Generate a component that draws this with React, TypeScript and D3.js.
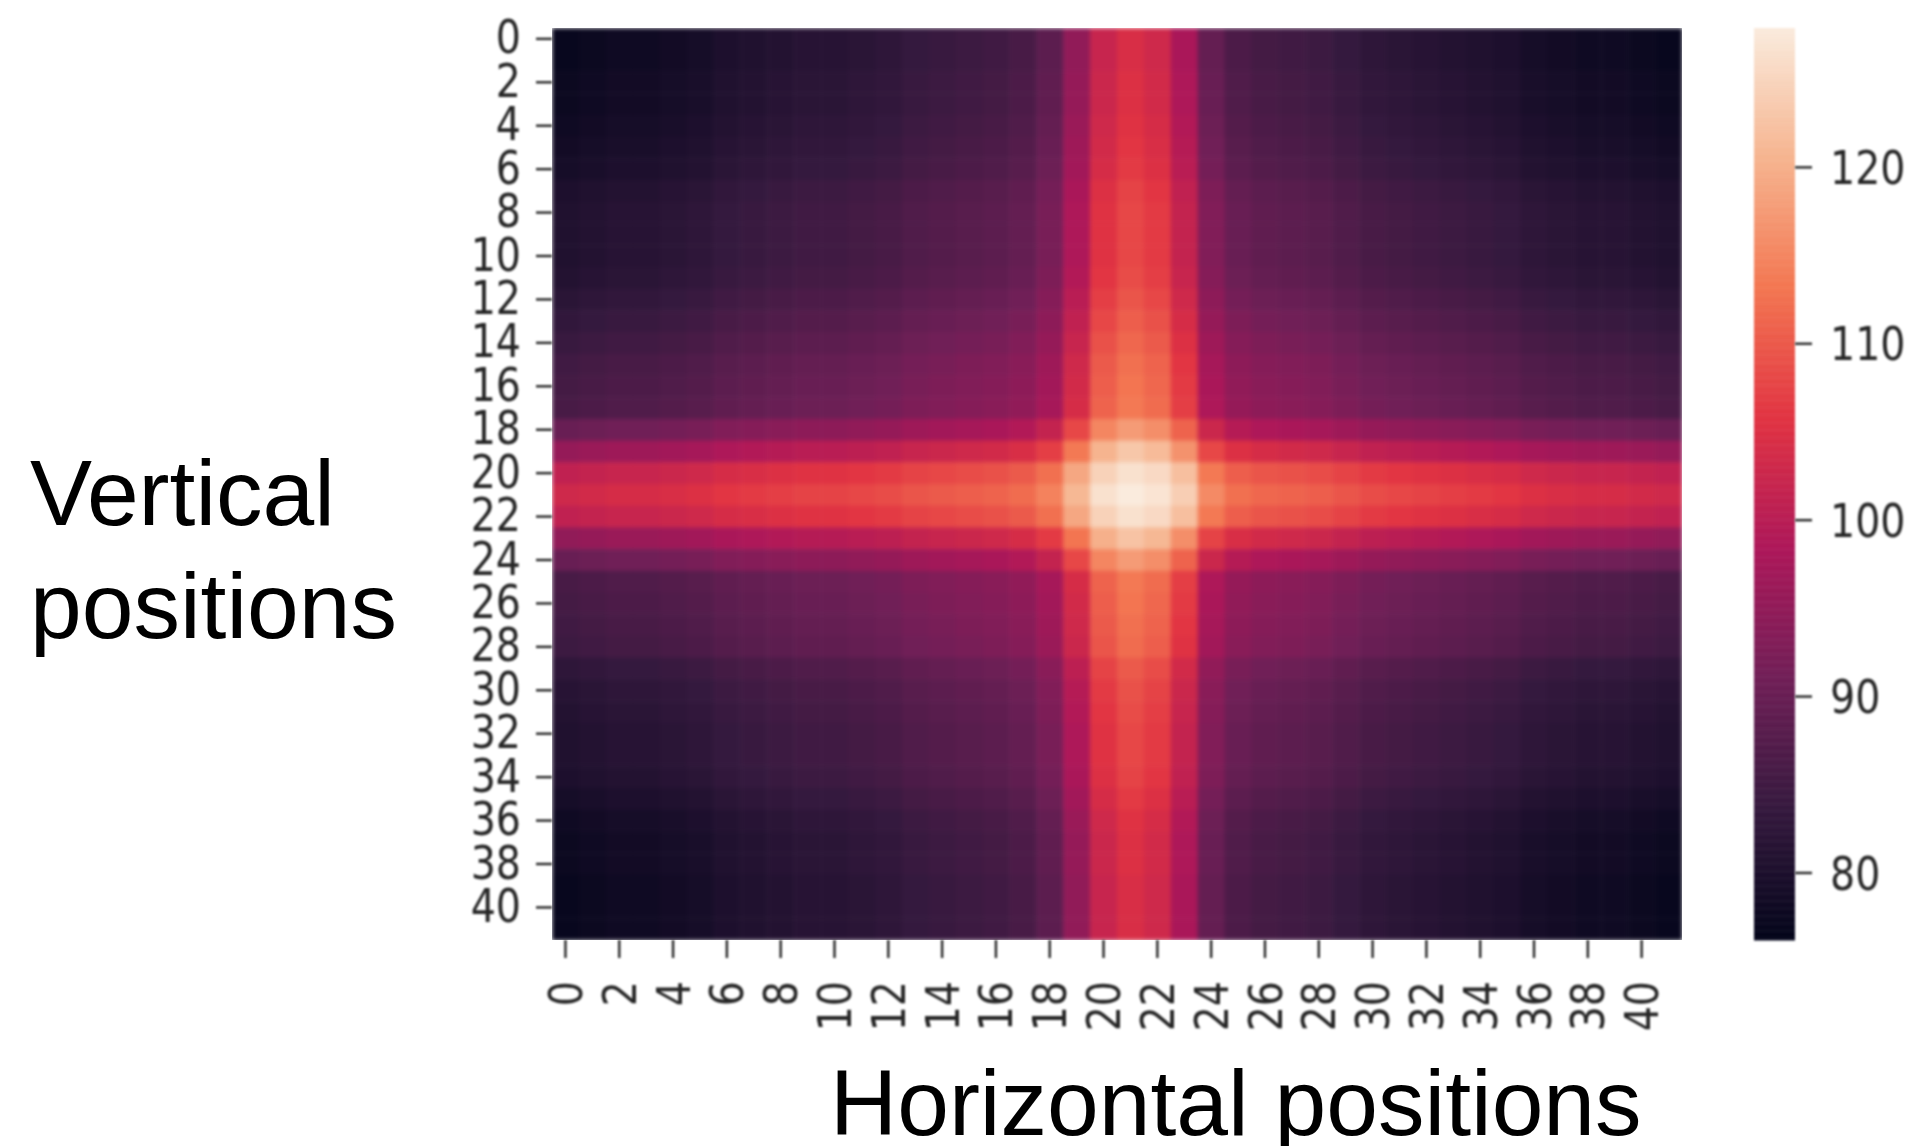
import React from "react";
import * as d3 from "d3";

const matrix: number[][] = [
[77,77.5,78,78,78.5,79,80,80.5,81,81.5,81.5,82,82.5,83.5,84,84.5,85,86,88.5,95,102,104.5,103,98,89.5,86.5,85.5,85,84.5,83.5,82.5,82,81.5,81,80.5,80,79,78.5,78,78,77.5,77],
[77,77.5,78,78,78.5,79,80,80.5,81,81.5,81.5,82,82.5,83.5,84,84.5,85,86,88.5,95,102,104.5,103,98,89.5,86.5,85.5,85,84.5,83.5,82.5,82,81.5,81,80.5,80,79,78.5,78,78,77.5,77],
[77.5,78,78.5,78.5,79,79.5,80.5,81,81.5,82,82,82.5,83,84,84.5,85,85.5,86.5,89,95.5,102.5,105,103.5,98.5,90,87,86,85.5,85,84,83,82.5,82,81.5,81,80.5,79.5,79,78.5,78.5,78,77.5],
[77.5,78,78.5,78.5,79,79.5,80.5,81,81.5,82,82,82.5,83,84,84.5,85,85.5,86.5,89,95.5,102.5,105,103.5,98.5,90,87,86,85.5,85,84,83,82.5,82,81.5,81,80.5,79.5,79,78.5,78.5,78,77.5],
[78,78.5,79,79,79.5,80,81,81.5,82,82.5,82.5,83,83.5,84.5,85,85.5,86,87,89.5,96,103,105.5,104,99,90.5,87.5,86.5,86,85.5,84.5,83.5,83,82.5,82,81.5,81,80,79.5,79,79,78.5,78],
[78.5,79,79.5,79.5,80,80.5,81.5,82,82.5,83,83,83.5,84,85,85.5,86,86.5,87.5,90,96.5,103.5,106,104.5,99.5,91,88,87,86.5,86,85,84,83.5,83,82.5,82,81.5,80.5,80,79.5,79.5,79,78.5],
[79,79.5,80,80,80.5,81,82,82.5,83,83.5,83.5,84,84.5,85.5,86,86.5,87,88,90.5,97,104,106.5,105,100,91.5,88.5,87.5,87,86.5,85.5,84.5,84,83.5,83,82.5,82,81,80.5,80,80,79.5,79],
[80,80.5,81,81,81.5,82,83,83.5,84,84.5,84.5,85,85.5,86.5,87,87.5,88,89,91.5,98,105,107.5,106,101,92.5,89.5,88.5,88,87.5,86.5,85.5,85,84.5,84,83.5,83,82,81.5,81,81,80.5,80],
[80.5,81,81.5,81.5,82,82.5,83.5,84,84.5,85,85,85.5,86,87,87.5,88,88.5,89.5,92,98.5,105.5,108,106.5,101.5,93,90,89,88.5,88,87,86,85.5,85,84.5,84,83.5,82.5,82,81.5,81.5,81,80.5],
[80.5,81,81.5,81.5,82,82.5,83.5,84,84.5,85,85,85.5,86,87,87.5,88,88.5,89.5,92,98.5,105.5,108,106.5,101.5,93,90,89,88.5,88,87,86,85.5,85,84.5,84,83.5,82.5,82,81.5,81.5,81,80.5],
[80.5,81,81.5,81.5,82,82.5,83.5,84,84.5,85,85,85.5,86,87,87.5,88,88.5,89.5,92,98.5,105.5,108,106.5,101.5,93,90,89,88.5,88,87,86,85.5,85,84.5,84,83.5,82.5,82,81.5,81.5,81,80.5],
[81,81.5,82,82,82.5,83,84,84.5,85,85.5,85.5,86,86.5,87.5,88,88.5,89,90,92.5,99,106,108.5,107,102,93.5,90.5,89.5,89,88.5,87.5,86.5,86,85.5,85,84.5,84,83,82.5,82,82,81.5,81],
[82,82.5,83,83,83.5,84,85,85.5,86,86.5,86.5,87,87.5,88.5,89,89.5,90,91,93.5,100,107,109.5,108,103,94.5,91.5,90.5,90,89.5,88.5,87.5,87,86.5,86,85.5,85,84,83.5,83,83,82.5,82],
[83,83.5,84,84,84.5,85,86,86.5,87,87.5,87.5,88,88.5,89.5,90,90.5,91,92,94.5,101,108,110.5,109,104,95.5,92.5,91.5,91,90.5,89.5,88.5,88,87.5,87,86.5,86,85,84.5,84,84,83.5,83],
[84,84.5,85,85,85.5,86,87,87.5,88,88.5,88.5,89,89.5,90.5,91,91.5,92,93,95.5,102,109,111.5,110,105,96.5,93.5,92.5,92,91.5,90.5,89.5,89,88.5,88,87.5,87,86,85.5,85,85,84.5,84],
[85,85.5,86,86,86.5,87,88,88.5,89,89.5,89.5,90,90.5,91.5,92,92.5,93,94,96.5,103,110,112.5,111,106,97.5,94.5,93.5,93,92.5,91.5,90.5,90,89.5,89,88.5,88,87,86.5,86,86,85.5,85],
[85.5,86,86.5,86.5,87,87.5,88.5,89,89.5,90,90,90.5,91,92,92.5,93,93.5,94.5,97,103.5,110.5,113,111.5,106.5,98,95,94,93.5,93,92,91,90.5,90,89.5,89,88.5,87.5,87,86.5,86.5,86,85.5],
[86,86.5,87,87,87.5,88,89,89.5,90,90.5,90.5,91,91.5,92.5,93,93.5,94,95,97.5,104,111,113.5,112,107,98.5,95.5,94.5,94,93.5,92.5,91.5,91,90.5,90,89.5,89,88,87.5,87,87,86.5,86],
[90,90.5,91,91,91.5,92,93,93.5,94,94.5,94.5,95,95.5,96.5,97,97.5,98,99,101.5,108,115,117.5,116,111,102.5,99.5,98.5,98,97.5,96.5,95.5,95,94.5,94,93.5,93,92,91.5,91,91,90.5,90],
[95.5,96,96.5,96.5,97,97.5,98.5,99,99.5,100,100,100.5,101,102,102.5,103,103.5,104.5,107,113.5,120.5,123,121.5,116.5,108,105,104,103.5,103,102,101,100.5,100,99.5,99,98.5,97.5,97,96.5,96.5,96,95.5],
[101,101.5,102,102,102.5,103,104,104.5,105,105.5,105.5,106,106.5,107.5,108,108.5,109,110,112.5,119,124.5,126.5,125.5,122,113.5,110.5,109.5,109,108.5,107.5,106.5,106,105.5,105,104.5,104,103,102.5,102,102,101.5,101],
[103,103.5,104,104,104.5,105,106,106.5,107,107.5,107.5,108,108.5,109.5,110,110.5,111,112,114.5,121,126.5,127.9,127,124,115.5,112.5,111.5,111,110.5,109.5,108.5,108,107.5,107,106.5,106,105,104.5,104,104,103.5,103],
[101,101.5,102,102,102.5,103,104,104.5,105,105.5,105.5,106,106.5,107.5,108,108.5,109,110,112.5,119,124.5,126.5,125.5,122,113.5,110.5,109.5,109,108.5,107.5,106.5,106,105.5,105,104.5,104,103,102.5,102,102,101.5,101],
[95,95.5,96,96,96.5,97,98,98.5,99,99.5,99.5,100,100.5,101.5,102,102.5,103,104,106.5,113,120,122.5,121,116,107.5,104.5,103.5,103,102.5,101.5,100.5,100,99.5,99,98.5,98,97,96.5,96,96,95.5,95],
[90,90.5,91,91,91.5,92,93,93.5,94,94.5,94.5,95,95.5,96.5,97,97.5,98,99,101.5,108,115,117.5,116,111,102.5,99.5,98.5,98,97.5,96.5,95.5,95,94.5,94,93.5,93,92,91.5,91,91,90.5,90],
[86,86.5,87,87,87.5,88,89,89.5,90,90.5,90.5,91,91.5,92.5,93,93.5,94,95,97.5,104,111,113.5,112,107,98.5,95.5,94.5,94,93.5,92.5,91.5,91,90.5,90,89.5,89,88,87.5,87,87,86.5,86],
[85.5,86,86.5,86.5,87,87.5,88.5,89,89.5,90,90,90.5,91,92,92.5,93,93.5,94.5,97,103.5,110.5,113,111.5,106.5,98,95,94,93.5,93,92,91,90.5,90,89.5,89,88.5,87.5,87,86.5,86.5,86,85.5],
[85,85.5,86,86,86.5,87,88,88.5,89,89.5,89.5,90,90.5,91.5,92,92.5,93,94,96.5,103,110,112.5,111,106,97.5,94.5,93.5,93,92.5,91.5,90.5,90,89.5,89,88.5,88,87,86.5,86,86,85.5,85],
[84.5,85,85.5,85.5,86,86.5,87.5,88,88.5,89,89,89.5,90,91,91.5,92,92.5,93.5,96,102.5,109.5,112,110.5,105.5,97,94,93,92.5,92,91,90,89.5,89,88.5,88,87.5,86.5,86,85.5,85.5,85,84.5],
[82.5,83,83.5,83.5,84,84.5,85.5,86,86.5,87,87,87.5,88,89,89.5,90,90.5,91.5,94,100.5,107.5,110,108.5,103.5,95,92,91,90.5,90,89,88,87.5,87,86.5,86,85.5,84.5,84,83.5,83.5,83,82.5],
[81.5,82,82.5,82.5,83,83.5,84.5,85,85.5,86,86,86.5,87,88,88.5,89,89.5,90.5,93,99.5,106.5,109,107.5,102.5,94,91,90,89.5,89,88,87,86.5,86,85.5,85,84.5,83.5,83,82.5,82.5,82,81.5],
[81,81.5,82,82,82.5,83,84,84.5,85,85.5,85.5,86,86.5,87.5,88,88.5,89,90,92.5,99,106,108.5,107,102,93.5,90.5,89.5,89,88.5,87.5,86.5,86,85.5,85,84.5,84,83,82.5,82,82,81.5,81],
[80.5,81,81.5,81.5,82,82.5,83.5,84,84.5,85,85,85.5,86,87,87.5,88,88.5,89.5,92,98.5,105.5,108,106.5,101.5,93,90,89,88.5,88,87,86,85.5,85,84.5,84,83.5,82.5,82,81.5,81.5,81,80.5],
[80.5,81,81.5,81.5,82,82.5,83.5,84,84.5,85,85,85.5,86,87,87.5,88,88.5,89.5,92,98.5,105.5,108,106.5,101.5,93,90,89,88.5,88,87,86,85.5,85,84.5,84,83.5,82.5,82,81.5,81.5,81,80.5],
[80,80.5,81,81,81.5,82,83,83.5,84,84.5,84.5,85,85.5,86.5,87,87.5,88,89,91.5,98,105,107.5,106,101,92.5,89.5,88.5,88,87.5,86.5,85.5,85,84.5,84,83.5,83,82,81.5,81,81,80.5,80],
[79,79.5,80,80,80.5,81,82,82.5,83,83.5,83.5,84,84.5,85.5,86,86.5,87,88,90.5,97,104,106.5,105,100,91.5,88.5,87.5,87,86.5,85.5,84.5,84,83.5,83,82.5,82,81,80.5,80,80,79.5,79],
[78,78.5,79,79,79.5,80,81,81.5,82,82.5,82.5,83,83.5,84.5,85,85.5,86,87,89.5,96,103,105.5,104,99,90.5,87.5,86.5,86,85.5,84.5,83.5,83,82.5,82,81.5,81,80,79.5,79,79,78.5,78],
[77.5,78,78.5,78.5,79,79.5,80.5,81,81.5,82,82,82.5,83,84,84.5,85,85.5,86.5,89,95.5,102.5,105,103.5,98.5,90,87,86,85.5,85,84,83,82.5,82,81.5,81,80.5,79.5,79,78.5,78.5,78,77.5],
[77.5,78,78.5,78.5,79,79.5,80.5,81,81.5,82,82,82.5,83,84,84.5,85,85.5,86.5,89,95.5,102.5,105,103.5,98.5,90,87,86,85.5,85,84,83,82.5,82,81.5,81,80.5,79.5,79,78.5,78.5,78,77.5],
[77,77.5,78,78,78.5,79,80,80.5,81,81.5,81.5,82,82.5,83.5,84,84.5,85,86,88.5,95,102,104.5,103,98,89.5,86.5,85.5,85,84.5,83.5,82.5,82,81.5,81,80.5,80,79,78.5,78,78,77.5,77],
[77,77.5,78,78,78.5,79,80,80.5,81,81.5,81.5,82,82.5,83.5,84,84.5,85,86,88.5,95,102,104.5,103,98,89.5,86.5,85.5,85,84.5,83.5,82.5,82,81.5,81,80.5,80,79,78.5,78,78,77.5,77],
[77,77.5,78,78,78.5,79,80,80.5,81,81.5,81.5,82,82.5,83.5,84,84.5,85,86,88.5,95,102,104.5,103,98,89.5,86.5,85.5,85,84.5,83.5,82.5,82,81.5,81,80.5,80,79,78.5,78,78,77.5,77],
];

const tickLabels = d3.range(0, 41, 2);
const colorbarTicks = [80, 90, 100, 110, 120];
const valueMin = 76.2;
const valueMax = 127.9;
const rocketStops = ["#03051a", "#35193e", "#701f57", "#ad1759", "#e13342", "#f37651", "#f6b48f", "#faebdd"];

const hm = { left: 552, right: 1682, top: 28, bottom: 940 };
const cb = { left: 1754, right: 1795 };
const ink = "#262626";

export default function App() {
  const indices = d3.range(matrix.length);
  const x = d3.scaleBand<number>().domain(indices).range([hm.left, hm.right]);
  const y = d3.scaleBand<number>().domain(indices).range([hm.top, hm.bottom]);
  const color = d3
    .scaleLinear<string>()
    .domain(rocketStops.map((_, i) => valueMin + ((valueMax - valueMin) * i) / (rocketStops.length - 1)))
    .range(rocketStops)
    .interpolate(d3.interpolateRgb);
  const cbY = d3.scaleLinear().domain([valueMin, valueMax]).range([hm.bottom, hm.top]);
  const cbValues = d3.range(valueMin, valueMax, 0.1);

  return (
    <svg
      width={1907}
      height={1146}
      style={{ position: "absolute", left: 0, top: 0, display: "block", background: "#fff" }}
    >
      <defs>
        <filter id="cells" filterUnits="userSpaceOnUse" x={hm.left} y={hm.top} width={hm.right - hm.left} height={hm.bottom - hm.top} colorInterpolationFilters="sRGB">
          <feGaussianBlur stdDeviation="2.2" edgeMode="duplicate" />
        </filter>
        <filter id="soft" x="-10%" y="-10%" width="120%" height="120%" colorInterpolationFilters="sRGB">
          <feGaussianBlur stdDeviation="0.8" />
        </filter>
      </defs>

      <g filter="url(#cells)">
        {matrix.map((row, r) =>
          row.map((v, c) => (
            <rect
              key={`${r}-${c}`}
              x={x(c)}
              y={y(r)}
              width={x.bandwidth() + 0.5}
              height={y.bandwidth() + 0.5}
              fill={color(v)}
            />
          ))
        )}
      </g>

      <g filter="url(#soft)">
        {cbValues.map((v) => (
          <rect key={v} x={cb.left} y={cbY(v + 0.1)} width={cb.right - cb.left} height={cbY(v) - cbY(v + 0.1) + 0.5} fill={color(v)} />
        ))}
      </g>

      <g filter="url(#soft)" fill={ink} fontFamily="'DejaVu Sans'" fontSize={46}>
        {tickLabels.map((t) => {
          const py = (y(t) as number) + y.bandwidth() / 2;
          return (
            <g key={`y${t}`}>
              <line x1={536} x2={552} y1={py} y2={py} stroke={ink} strokeWidth={2.4} />
              <text transform={`translate(521,${py - 2}) scale(0.86,1)`} textAnchor="end" dy="0.36em">
                {t}
              </text>
            </g>
          );
        })}
        {tickLabels.map((t) => {
          const px = (x(t) as number) + x.bandwidth() / 2;
          return (
            <g key={`x${t}`}>
              <line x1={px} x2={px} y1={940} y2={958} stroke={ink} strokeWidth={2.4} />
              <text transform={`translate(${px},981) rotate(-90) scale(0.86,1)`} textAnchor="end" dy="0.36em">
                {t}
              </text>
            </g>
          );
        })}
        {colorbarTicks.map((t) => (
          <g key={`c${t}`}>
            <line x1={cb.right} x2={1812} y1={cbY(t)} y2={cbY(t)} stroke={ink} strokeWidth={2.4} />
            <text transform={`translate(1830,${cbY(t)}) scale(0.86,1)`} dy="0.36em">
              {t}
            </text>
          </g>
        ))}
      </g>

      <g fill="#000" fontFamily="'Liberation Sans'">
        <text x={30} y={525} fontSize={93}>Vertical</text>
        <text x={30} y={638} fontSize={93}>positions</text>
        <text x={830} y={1135} fontSize={93}>Horizontal positions</text>
      </g>
    </svg>
  );
}
